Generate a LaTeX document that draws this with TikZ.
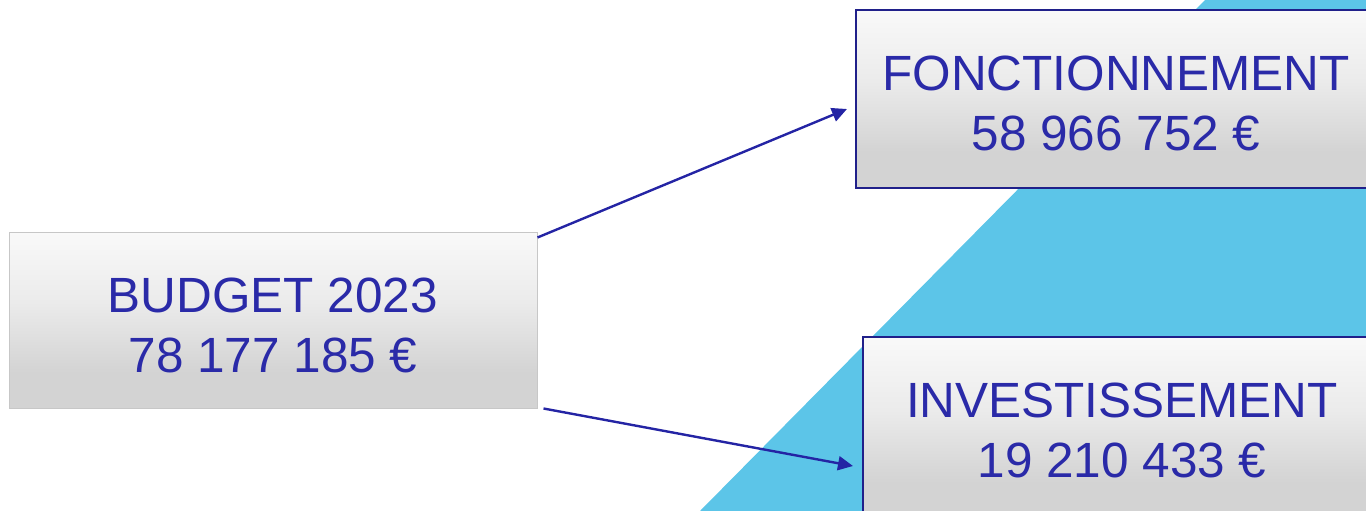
\documentclass[tikz,border=0pt]{standalone}
\usepackage{fontspec}
\setmainfont{Liberation Sans}
\usetikzlibrary{arrows.meta}
\definecolor{txtblue}{HTML}{2A2AA8}
\definecolor{navy}{HTML}{20208A}
\definecolor{arrowblue}{HTML}{2424A4}
\definecolor{skyb}{HTML}{5CC5E8}
\definecolor{sA}{HTML}{DADADA}
\definecolor{sB}{HTML}{D3D3D3}
\definecolor{sC}{HTML}{EBEBEB}
\definecolor{sD}{HTML}{F9F9F9}
\pgfdeclareverticalshading{boxshade}{100bp}{color(0bp)=(sA); color(22bp)=(sB); color(35bp)=(sB); color(55bp)=(sC); color(75bp)=(sD); color(100bp)=(sD)}
\tikzset{
  valbox/.style={shading=boxshade, inner sep=0pt},
  valtext/.style={align=center, inner sep=0pt,
    font=\fontsize{49.5}{60}\selectfont, text=txtblue},
  navybox/.style={valbox, draw=navy, line width=2pt},
  greybox/.style={valbox, draw=black!22, line width=1pt},
  flow/.style={draw=arrowblue, line width=2.4pt, -{Triangle[length=15pt,width=14pt]}}
}
\begin{document}
\begin{tikzpicture}[x=1pt,y=-1pt]
\useasboundingbox (0,0) rectangle (1366,511);
\clip (0,0) rectangle (1366,511);
\fill[skyb] (1205,0) -- (1366,0) -- (1366,511) -- (700,511) -- cycle;
\node[greybox, minimum width=528pt, minimum height=176pt,
  label={[valtext,yshift=-5pt]center:BUDGET 2023\\78 177 185 €}] (b) at (273,320) {};
\node[navybox, minimum width=520pt, minimum height=178pt,
  label={[valtext,yshift=-4pt]center:FONCTIONNEMENT\\58 966 752 €}] (f) at (1116,99) {};
\node[navybox, minimum width=518pt, minimum height=182pt,
  label={[valtext,yshift=-2pt]center:INVESTISSEMENT\\19 210 433 €}] (i) at (1122,428) {};
\draw[flow] ([yshift=-6pt]b.north east) -- ([xshift=-8pt,yshift=-10pt]f.west);
\draw[flow] ([xshift=6pt]b.south east) -- ([xshift=-9pt,yshift=-38pt]i.west);
\end{tikzpicture}
\end{document}
